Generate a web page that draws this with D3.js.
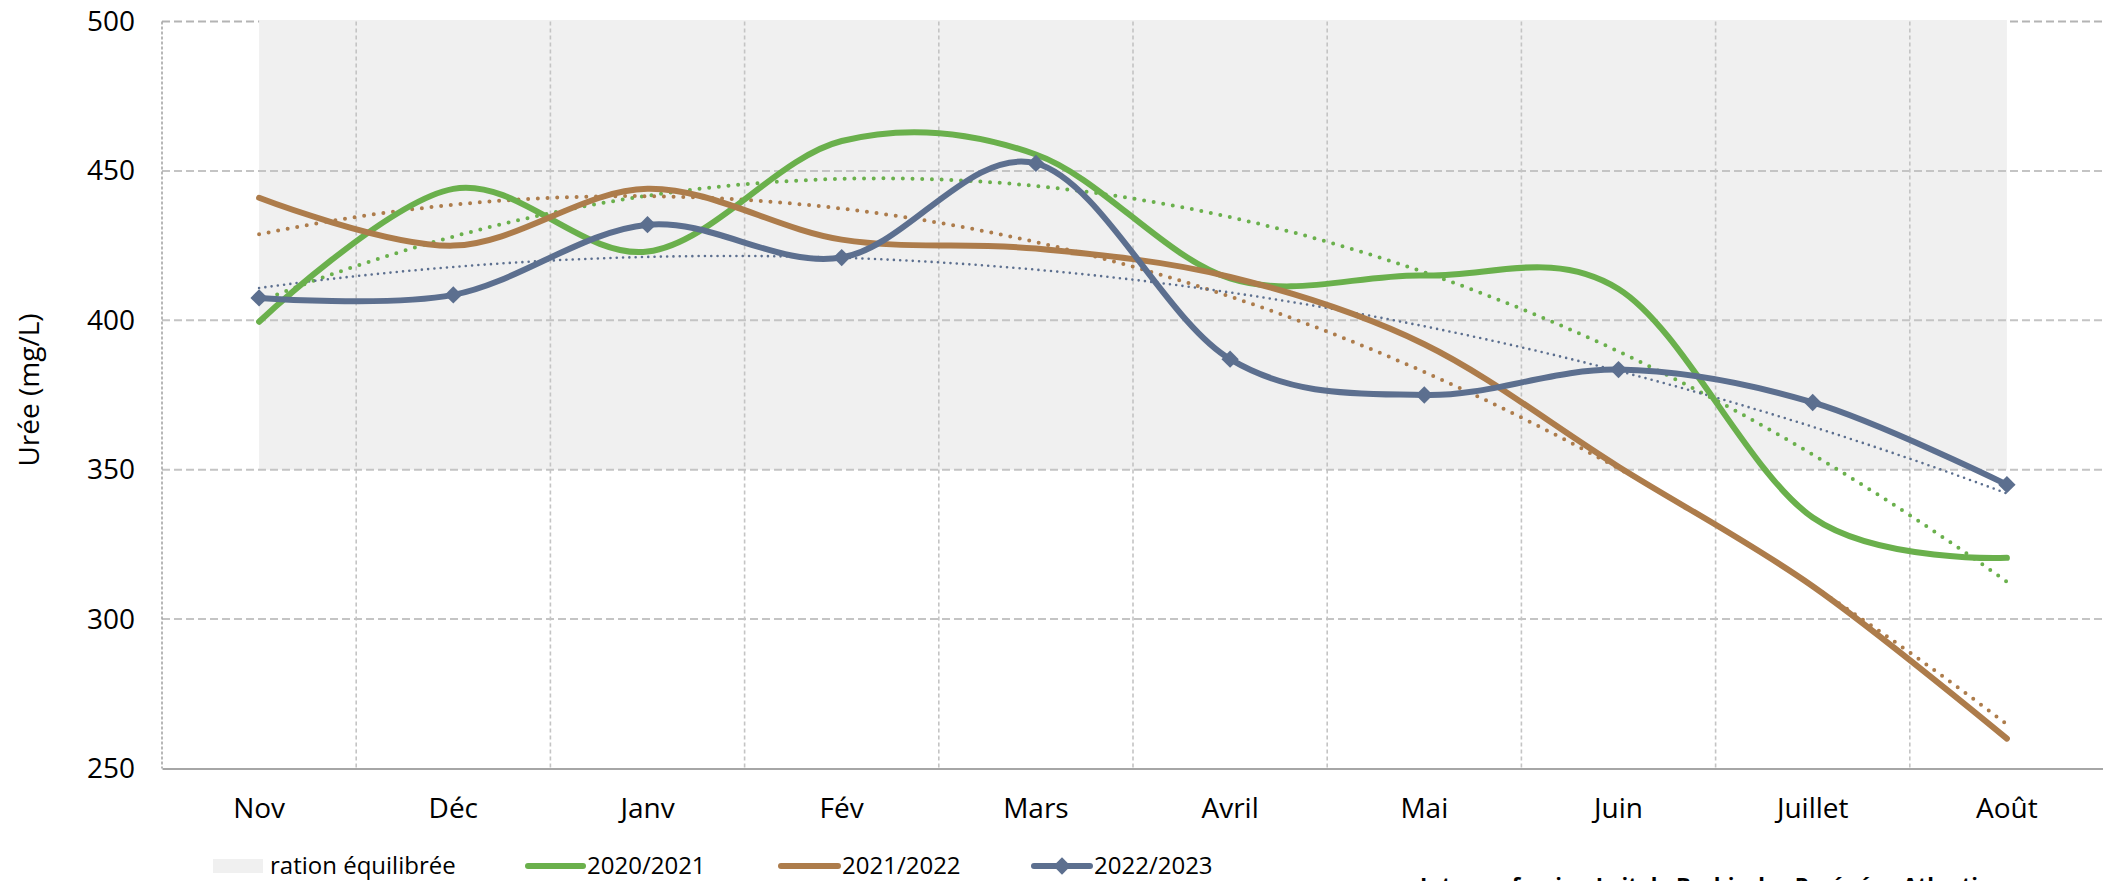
<!DOCTYPE html>
<html>
<head>
<meta charset="utf-8">
<script src="https://cdnjs.cloudflare.com/ajax/libs/d3/7.8.5/d3.min.js"></script>
<style>
  html, body { margin: 0; padding: 0; background: #fff; }
  svg { display: block; font-family: "Open Sans", sans-serif; }
</style>
</head>
<body>
<svg width="2103" height="881"></svg>
<script>
(function() {
    // chart data
    var months = ["Nov", "Déc", "Janv", "Fév", "Mars", "Avril", "Mai", "Juin", "Juillet", "Août"];
    var yTicks = [250, 300, 350, 400, 450, 500];
    var ration = [350, 500]; // grey band "ration équilibrée"

    var s2021 = [399.5, 444, 423, 460, 455.5, 414, 415, 410.5, 334, 320.5];
    var s2122 = [441, 425, 444, 427, 424, 414.5, 392, 351, 311, 260];
    var s2223 = [407.5, 408.5, 432, 421, 452.5, 387, 375, 383.5, 372.5, 345];

    var series = [
        {name: "2020/2021", values: s2021, color: "#6ab04c", marker: false, dotW: 4, dotGap: 9.7},
        {name: "2021/2022", values: s2122, color: "#ad7c4b", marker: false, dotW: 4, dotGap: 9.7},
        {name: "2022/2023", values: s2223, color: "#5c6f8f", marker: true, dotW: 2.6, dotGap: 6.3}
    ];

    var margin = {top: 21.5, left: 162, right: 2104, bottom: 768.5};

    var svg = d3.select("svg");

    var x = d3.scaleBand()
            .domain(months)
            .range([margin.left, margin.right])
            .padding(0);
    var cx = function(m) { return x(m) + x.bandwidth() / 2; };

    var y = d3.scaleLinear()
            .domain([250, 500])
            .range([margin.bottom, margin.top]);

    // top gridline sits under the band
    svg.append("line")
            .attr("x1", margin.left).attr("x2", margin.right)
            .attr("y1", y(500)).attr("y2", y(500))
            .attr("stroke", "#b4b4b4").attr("stroke-width", 2)
            .attr("stroke-dasharray", "8,4");

    svg.append("rect")
            .attr("x", cx(months[0]))
            .attr("y", y(ration[1]) - 1.5)
            .attr("width", cx(months[months.length - 1]) - cx(months[0]))
            .attr("height", y(ration[0]) - y(ration[1]) + 1.5)
            .attr("fill", "#f0f0f0");

    // horizontal gridlines
    svg.append("g")
        .selectAll("line")
        .data(yTicks.filter(function(t) { return t > 250 && t < 500; }))
        .join("line")
            .attr("x1", margin.left).attr("x2", margin.right)
            .attr("y1", function(d) { return y(d); })
            .attr("y2", function(d) { return y(d); })
            .attr("stroke", "#c4c4c4").attr("stroke-width", 2)
            .attr("stroke-dasharray", "8,4");

    // vertical gridlines at category boundaries
    svg.append("g")
        .selectAll("line")
        .data(months.slice(1))
        .join("line")
            .attr("x1", function(d) { return x(d); })
            .attr("x2", function(d) { return x(d); })
            .attr("y1", y(500)).attr("y2", y(250))
            .attr("stroke", "#c4c4c4").attr("stroke-width", 1.6)
            .attr("stroke-dasharray", "4,3");

    // left axis (dashed) and bottom axis
    svg.append("line")
            .attr("x1", margin.left).attr("x2", margin.left)
            .attr("y1", y(500)).attr("y2", y(250))
            .attr("stroke", "#a6a6a6").attr("stroke-width", 1.6)
            .attr("stroke-dasharray", "3,2");

    var yAxis = d3.axisLeft(y).tickValues(yTicks).tickSize(0).tickPadding(27);
    var gy = svg.append("g")
            .attr("transform", "translate(" + margin.left + ",0)")
            .call(yAxis);
    gy.select(".domain").remove();
    gy.selectAll("text")
            .attr("font-size", 28)
            .attr("font-family", "'Open Sans', sans-serif")
            .attr("fill", "#000");

    var xAxis = d3.axisBottom(x).tickSize(0).tickPadding(30);
    var gx = svg.append("g")
            .attr("transform", "translate(0," + y(250) + ")")
            .call(xAxis);
    gx.select(".domain")
            .attr("stroke", "#a6a6a6").attr("stroke-width", 2);
    gx.selectAll("text")
            .attr("font-size", 28)
            .attr("font-family", "'Open Sans', sans-serif")
            .attr("fill", "#000");

    svg.append("text")
            .attr("transform", "translate(39," + ((margin.top + margin.bottom) / 2 - 5) + ") rotate(-90)")
            .attr("text-anchor", "middle")
            .attr("font-size", 28)
            .text("Urée (mg/L)");

    // polynomial (order 2) trendline, least squares on x = 1..n
    function polyFit(vals) {
        var n = vals.length, S = [0, 0, 0, 0, 0], T = [0, 0, 0];
        vals.forEach(function(v, i) {
            var t = i + 1;
            for (var k = 0; k < 5; k++) S[k] += Math.pow(t, k);
            for (var k2 = 0; k2 < 3; k2++) T[k2] += v * Math.pow(t, k2);
        });
        var A = [[S[0], S[1], S[2], T[0]], [S[1], S[2], S[3], T[1]], [S[2], S[3], S[4], T[2]]];
        for (var i = 0; i < 3; i++) {
            for (var j = i + 1; j < 3; j++) {
                var f = A[j][i] / A[i][i];
                for (var c = i; c < 4; c++) A[j][c] -= f * A[i][c];
            }
        }
        var b = [0, 0, 0];
        for (var r = 2; r >= 0; r--) {
            var s = A[r][3];
            for (var c2 = r + 1; c2 < 3; c2++) s -= A[r][c2] * b[c2];
            b[r] = s / A[r][r];
        }
        return function(t) { return b[0] + b[1] * t + b[2] * t * t; };
    }

    var step = x.bandwidth();
    var x0 = cx(months[0]);

    var trendLine = d3.line()
            .x(function(d) { return x0 + (d[0] - 1) * step; })
            .y(function(d) { return y(d[1]); });

    series.forEach(function(s) {
        var fn = polyFit(s.values);
        var pts = d3.range(1, s.values.length + 0.001, 0.05).map(function(t) { return [t, fn(t)]; });
        svg.append("path")
                .datum(pts)
                .attr("d", trendLine)
                .attr("fill", "none")
                .attr("stroke", s.color)
                .attr("stroke-width", s.dotW)
                .attr("stroke-linecap", "round")
                .attr("stroke-dasharray", "0," + s.dotGap);
    });

    var line = d3.line()
            .x(function(d, i) { return cx(months[i]); })
            .y(function(d) { return y(d); })
            .curve(d3.curveCardinal.tension(0));

    var diamond = d3.symbol().type(d3.symbolSquare).size(150);

    series.forEach(function(s) {
        svg.append("path")
                .datum(s.values)
                .attr("d", line)
                .attr("fill", "none")
                .attr("stroke", s.color)
                .attr("stroke-width", 6)
                .attr("stroke-linecap", "round")
                .attr("stroke-linejoin", "round");
        if (s.marker) {
            svg.append("g")
                .selectAll("path")
                .data(s.values)
                .join("path")
                    .attr("d", diamond)
                    .attr("transform", function(d, i) {
                        return "translate(" + cx(months[i]) + "," + y(d) + ") rotate(45)";
                    })
                    .attr("fill", s.color);
        }
    });

    // legend
    var ly = 866;
    var legend = svg.append("g").attr("font-size", 24);

    legend.append("rect")
            .attr("x", 213).attr("y", ly - 7).attr("width", 50).attr("height", 14)
            .attr("fill", "#f0f0f0");
    legend.append("text")
            .attr("x", 270).attr("y", ly).attr("dy", "0.35em")
            .text("ration équilibrée");

    var items = [
        {s: series[0], x1: 528, x2: 583, tx: 587},
        {s: series[1], x1: 781, x2: 838, tx: 842},
        {s: series[2], x1: 1034, x2: 1090, tx: 1094}
    ];
    items.forEach(function(it) {
        legend.append("line")
                .attr("x1", it.x1).attr("x2", it.x2)
                .attr("y1", ly).attr("y2", ly)
                .attr("stroke", it.s.color).attr("stroke-width", 6)
                .attr("stroke-linecap", "round");
        if (it.s.marker) {
            legend.append("path")
                    .attr("d", diamond)
                    .attr("transform", "translate(" + ((it.x1 + it.x2) / 2) + "," + ly + ") rotate(45)")
                    .attr("fill", it.s.color);
        }
        legend.append("text")
                .attr("x", it.tx).attr("y", ly).attr("dy", "0.35em")
                .text(it.s.name);
    });

    svg.append("text")
            .attr("x", 1420).attr("y", 893)
            .attr("font-size", 22)
            .attr("font-weight", "bold")
            .text("Interprofession Lait de Brebis des Pyrénées-Atlantiques");
})();
</script>
</body>
</html>
